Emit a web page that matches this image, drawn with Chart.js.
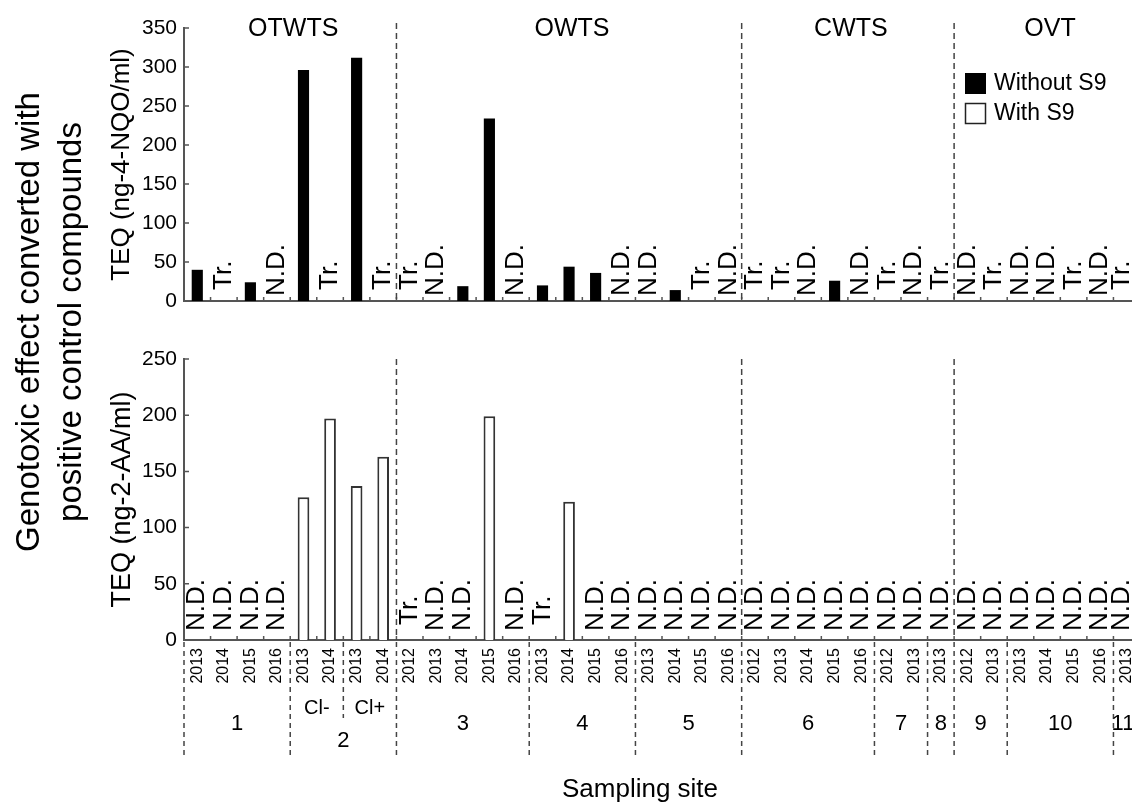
<!DOCTYPE html>
<html>
<head>
<meta charset="utf-8">
<title>Genotoxic effect by sampling site</title>
<script src="https://cdn.jsdelivr.net/npm/chart.js@4.4.1/dist/chart.umd.min.js"></script>
<style>
  html, body { margin: 0; padding: 0; background: #fff; }
  #wrap { position: relative; width: 1132px; height: 803px; overflow: hidden; }
  #wrap canvas { position: absolute; left: 0; top: 0; }
</style>
</head>
<body>
<div id="wrap">
  <canvas id="upper" width="1140" height="803"></canvas>
  <canvas id="lower" width="1140" height="803"></canvas>
</div>
<script>
// sampling site and year of every bar slot
const sites = ['1','1','1','1', '2','2','2','2', '3','3','3','3','3', '4','4','4','4',
               '5','5','5','5', '6','6','6','6','6', '7','7', '8', '9','9', '10','10','10','10', '11'];
const years = ['2013','2014','2015','2016', '2013','2014','2013','2014',
               '2012','2013','2014','2015','2016', '2013','2014','2015','2016',
               '2013','2014','2015','2016', '2012','2013','2014','2015','2016',
               '2012','2013', '2013', '2012','2013', '2013','2014','2015','2016', '2013'];
const subSites = ['','','','', 'Cl-','Cl-','Cl+','Cl+'].concat(Array(28).fill(''));

const facilityNames = ['OTWTS', 'OWTS', 'CWTS', 'OVT'];
const facilitySizes = [8, 13, 8, 7];

// TEQ without S9 (ng-4-NQO/ml); null where nothing was quantified
const withoutS9 = [40, null, 24, null, 296, null, 312, null,
                   null, null, 19, 234, null, 20, 44, 36, null,
                   null, 14, null, null, null, null, null, 26, null,
                   null, null, null, null, null, null, null, null, null, null];
const withoutS9Notes = ['', 'Tr.', '', 'N.D.', '', 'Tr.', '', 'Tr.',
                        'Tr.', 'N.D.', '', '', 'N.D.', '', '', '', 'N.D.',
                        'N.D.', '', 'Tr.', 'N.D.', 'Tr.', 'Tr.', 'N.D.', '', 'N.D.',
                        'Tr.', 'N.D.', 'Tr.', 'N.D.', 'Tr.', 'N.D.', 'N.D.', 'Tr.', 'N.D.', 'Tr.'];

// TEQ with S9 (ng-2-AA/ml)
const withS9 = [null, null, null, null, 127, 197, 137, 163,
                null, null, null, 199, null, null, 123, null, null,
                null, null, null, null, null, null, null, null, null,
                null, null, null, null, null, null, null, null, null, null];
const withS9Notes = ['N.D.', 'N.D.', 'N.D.', 'N.D.', '', '', '', '',
                     'Tr.', 'N.D.', 'N.D.', '', 'N.D.', 'Tr.', '', 'N.D.', 'N.D.']
                     .concat(Array(19).fill('N.D.'));

const FONT = "'Liberation Sans', Arial, Helvetica, sans-serif";
const axisColor = '#555';
const dashColor = '#444';
const visibleRight = 1132; // the plot runs a little past the page edge

// consecutive runs of equal values -> [{value, start, end}]
function runs(arr) {
  const out = [];
  arr.forEach((v, i) => {
    const last = out[out.length - 1];
    if (last && last.value === v) last.end = i;
    else out.push({ value: v, start: i, end: i });
  });
  return out;
}

const facilityOf = [];
facilityNames.forEach((name, k) => {
  for (let j = 0; j < facilitySizes[k]; j++) facilityOf.push(name);
});

function edge(xs, i) {
  // pixel of the boundary on the left side of slot i
  const step = xs.getPixelForValue(1) - xs.getPixelForValue(0);
  return xs.getPixelForValue(i) - step / 2;
}

function vline(ctx, x, y0, y1, dash) {
  ctx.save();
  ctx.strokeStyle = dashColor;
  ctx.lineWidth = 1.5;
  ctx.setLineDash(dash);
  ctx.beginPath();
  ctx.moveTo(x, y0);
  ctx.lineTo(x, y1);
  ctx.stroke();
  ctx.restore();
}

function drawNotes(chart, notes, lift) {
  const { ctx } = chart;
  const xs = chart.scales.x, ys = chart.scales.y;
  const base = ys.getPixelForValue(0);
  ctx.save();
  ctx.fillStyle = '#000';
  ctx.font = '26px ' + FONT;
  ctx.textAlign = 'left';
  ctx.textBaseline = 'middle';
  notes.forEach((t, i) => {
    if (!t) return;
    ctx.save();
    ctx.translate(Math.min(xs.getPixelForValue(i), visibleRight - 10), base - lift - (t === 'Tr.' ? 6 : 0));
    ctx.rotate(-Math.PI / 2);
    ctx.fillText(t, 0, 0);
    ctx.restore();
  });
  ctx.restore();
}

function drawInnerTicks(chart) {
  const { ctx, chartArea } = chart;
  const xs = chart.scales.x, ys = chart.scales.y;
  const base = ys.getPixelForValue(0);
  ctx.save();
  ctx.strokeStyle = axisColor;
  ctx.lineWidth = 1.5;
  ctx.beginPath();
  for (let i = 1; i < years.length; i++) {
    const x = edge(xs, i);
    ctx.moveTo(x, base);
    ctx.lineTo(x, base - 4);
  }
  ys.ticks.forEach(t => {
    const y = ys.getPixelForValue(t.value);
    ctx.moveTo(chartArea.left, y);
    ctx.lineTo(chartArea.left + 5, y);
  });
  ctx.stroke();
  ctx.restore();
}

function facilityLines(chart, top) {
  const xs = chart.scales.x;
  const base = chart.scales.y.getPixelForValue(0);
  runs(facilityOf).slice(1).forEach(r => vline(chart.ctx, edge(xs, r.start), top, base, [6, 4]));
}

const upperDecor = {
  id: 'upperDecor',
  afterDraw(chart) {
    const { ctx } = chart;
    const xs = chart.scales.x;
    drawInnerTicks(chart);
    facilityLines(chart, 23);
    drawNotes(chart, withoutS9Notes, 5);

    // facility names across the top
    ctx.save();
    ctx.fillStyle = '#000';
    ctx.font = '25px ' + FONT;
    ctx.textAlign = 'center';
    ctx.textBaseline = 'middle';
    runs(facilityOf).forEach(r => {
      ctx.fillText(r.value, (edge(xs, r.start) + edge(xs, r.end + 1)) / 2 + 3, 29);
    });

    // legend
    ctx.font = '23px ' + FONT;
    ctx.textAlign = 'left';
    ctx.fillStyle = '#000';
    ctx.fillRect(965, 73, 21, 21);
    ctx.fillText('Without S9', 994, 84);
    ctx.strokeStyle = '#222';
    ctx.lineWidth = 1.5;
    ctx.strokeRect(965.5, 103.5, 20, 20);
    ctx.fillText('With S9', 994, 114);
    ctx.restore();
  }
};

const lowerDecor = {
  id: 'lowerDecor',
  afterDraw(chart) {
    const { ctx, chartArea } = chart;
    const xs = chart.scales.x;
    const base = chart.scales.y.getPixelForValue(0);
    drawInnerTicks(chart);
    facilityLines(chart, chartArea.top);
    drawNotes(chart, withS9Notes, 9);

    // site separators under the axis
    runs(sites).forEach(r => vline(ctx, edge(xs, r.start), base + 2, 757, [5, 4]));
    runs(subSites).forEach(r => {
      if (r.start > 0 && sites[r.start] === sites[r.start - 1]) {
        vline(ctx, edge(xs, r.start), base + 2, 718, [5, 4]);
      }
    });

    ctx.save();
    ctx.fillStyle = '#000';
    ctx.textAlign = 'center';
    ctx.textBaseline = 'middle';
    ctx.font = '22px ' + FONT;
    runs(sites).forEach(r => {
      const split = subSites[r.start] !== '';
      const cx = (edge(xs, r.start) + edge(xs, r.end + 1)) / 2;
      ctx.fillText(r.value, Math.min(cx, visibleRight - 9), split ? 741 : 724);
    });
    ctx.font = '20px ' + FONT;
    runs(subSites).forEach(r => {
      if (!r.value) return;
      ctx.fillText(r.value, (edge(xs, r.start) + edge(xs, r.end + 1)) / 2, 708);
    });

    // shared axis titles
    ctx.font = '26px ' + FONT;
    ctx.textBaseline = 'alphabetic';
    ctx.fillText('Sampling site', 640, 797);

    ctx.font = '33px ' + FONT;
    ctx.textBaseline = 'middle';
    ctx.translate(0, 322);
    ctx.rotate(-Math.PI / 2);
    ctx.fillText('Genotoxic effect converted with', 0, 30);
    ctx.fillText('positive control compounds', 0, 72);
    ctx.restore();
  }
};

function yAxis(max, title, size) {
  return {
    min: 0,
    max: max,
    ticks: { stepSize: 50, color: '#000', padding: 7, font: { family: FONT, size: 21 } },
    grid: { display: false, drawTicks: false },
    border: { color: axisColor, width: 2 },
    title: {
      display: true,
      text: title,
      color: '#000',
      font: { family: FONT, size: size },
      padding: { top: 106, bottom: 0 }
    },
    afterFit: s => { s.width = 184; }
  };
}

new Chart(document.getElementById('upper'), {
  type: 'bar',
  data: {
    labels: years,
    datasets: [{
      label: 'Without S9',
      data: withoutS9,
      backgroundColor: '#000',
      borderWidth: 0,
      barPercentage: 0.42,
      categoryPercentage: 1
    }]
  },
  options: {
    responsive: false,
    animation: false,
    layout: { padding: { top: 28, bottom: 803 - 301, left: 0, right: 0 } },
    plugins: { legend: { display: false }, tooltip: { enabled: false } },
    scales: {
      x: {
        ticks: { display: false },
        grid: { display: false, drawTicks: false },
        border: { color: axisColor, width: 2 },
        afterFit: s => { s.height = 0; }
      },
      y: yAxis(350, 'TEQ (ng-4-NQO/ml)', 26)
    }
  },
  plugins: [upperDecor]
});

new Chart(document.getElementById('lower'), {
  type: 'bar',
  data: {
    labels: years,
    datasets: [{
      label: 'With S9',
      data: withS9,
      backgroundColor: '#fff',
      borderColor: '#333',
      borderWidth: 2,
      barPercentage: 0.44,
      categoryPercentage: 1
    }]
  },
  options: {
    responsive: false,
    animation: false,
    layout: { padding: { top: 359, bottom: 803 - 640 - 60, left: 0, right: 0 } },
    plugins: { legend: { display: false }, tooltip: { enabled: false } },
    scales: {
      x: {
        ticks: {
          autoSkip: false, minRotation: 90, maxRotation: 90, padding: 8,
          color: '#000', font: { family: FONT, size: 16 }
        },
        grid: { display: false, drawTicks: false },
        border: { color: axisColor, width: 2 },
        // year labels may overhang the plot ends; keep the plot the same width as the one above
        afterFit: s => { s.height = 60; s.paddingLeft = 0; s.paddingRight = 0; }
      },
      y: yAxis(250, 'TEQ (ng-2-AA/ml)', 27)
    }
  },
  plugins: [lowerDecor]
});
</script>
</body>
</html>
